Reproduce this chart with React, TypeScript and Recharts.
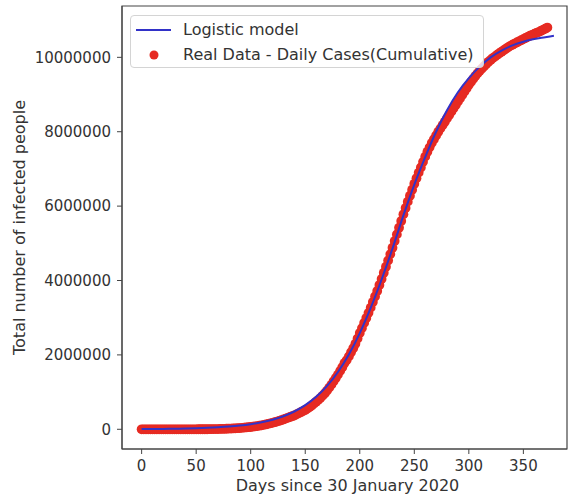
import {
  ComposedChart,
  Line,
  Scatter,
  XAxis,
  YAxis,
  ReferenceArea,
} from "recharts";

// Logistic fit (blue line), read every 10 days off the reference.
const modelDays = [
  0, 10, 20, 30, 40, 50, 60, 70, 80, 90, 100, 110, 120, 130, 140, 150, 160,
  170, 180, 190, 200, 210, 220, 230, 240, 250, 260, 270, 280, 290, 300, 310,
  320, 330, 340, 350, 360, 370, 378,
];
const modelCases = [
  5700, 7800, 10800, 14800, 20400, 28000, 38600, 53000, 72900, 100200, 137500,
  188300, 257600, 351600, 478400, 647600, 872100, 1164900, 1540700, 2011700,
  2586300, 3262800, 4027200, 4860000, 5750000, 6580000, 7320000, 8000000,
  8580000, 9060000, 9440000, 9750000, 10000000, 10180000, 10320000, 10420000,
  10490000, 10540000, 10580000,
];

// Real data (red dots), one reading every 2 days from day 0 to day 372.
const realStartDay = 0;
const realStepDays = 2;
const realCases = [
  // day 0 - 98
  0, 0, 0, 0, 0, 0, 0, 0, 0, 0, 0, 0, 0, 0, 0, 0, 0, 30, 30, 40, 50, 70, 90,
  120, 170, 250, 400, 560, 900, 1100, 1400, 2000, 3000, 4300, 5400, 6700,
  8400, 10000, 12000, 14500, 17000, 20000, 23000, 26500, 29500, 33000, 39000,
  44500, 50000, 56000,
  // day 100 - 138
  62000, 70000, 78000, 86000, 96000, 106000, 118000, 131000, 145000, 159000,
  175000, 190000, 207000, 225000, 245000, 265000, 287000, 308000, 330000,
  350000,
  // day 140 - 198
  370000, 400000, 430000, 460000, 490000, 520000, 555000, 595000, 640000,
  690000, 740000, 790000, 845000, 905000, 970000, 1040000, 1120000, 1200000,
  1290000, 1380000, 1470000, 1570000, 1670000, 1780000, 1860000, 1960000,
  2070000, 2180000, 2300000, 2440000,
  // day 200 - 258
  2590000, 2720000, 2860000, 2990000, 3130000, 3270000, 3420000, 3570000,
  3720000, 3880000, 4040000, 4210000, 4370000, 4540000, 4710000, 4880000,
  5060000, 5240000, 5420000, 5600000, 5780000, 5950000, 6120000, 6280000,
  6440000, 6600000, 6750000, 6900000, 7040000, 7190000,
  // day 260 - 304
  7330000, 7460000, 7580000, 7700000, 7800000, 7900000, 8000000, 8090000,
  8180000, 8270000, 8360000, 8450000, 8540000, 8630000, 8720000, 8810000,
  8900000, 8990000, 9080000, 9170000, 9260000, 9340000, 9420000,
  // day 306 - 372
  9500000, 9570000, 9640000, 9700000, 9760000, 9820000, 9880000, 9930000,
  9980000, 10020000, 10070000, 10110000, 10150000, 10190000, 10230000,
  10270000, 10310000, 10340000, 10370000, 10400000, 10430000, 10460000,
  10490000, 10520000, 10550000, 10580000, 10600000, 10630000, 10660000,
  10680000, 10710000, 10740000, 10770000, 10800000,
];

const xTicks = [0, 50, 100, 150, 200, 250, 300, 350];
const yTicks = [0, 2000000, 4000000, 6000000, 8000000, 10000000];
const xDomain = [-18, 390];
const yDomain = [-530000, 11380000];

const BLUE = "#3232c8";
const RED = "#e62a22";
const AXIS = "#444";
const TEXT = "#333";
const FONT = "'DejaVu Sans', sans-serif";

const modelData = modelDays.map((day, i) => ({ day, cases: modelCases[i] }));
const realData = realCases.map((cases, i) => ({
  day: realStartDay + i * realStepDays,
  cases,
}));

function RedDot(props: any) {
  const { cx, cy } = props;
  if (cx == null || cy == null) return null;
  return <circle cx={cx} cy={cy} r={4.9} fill={RED} />;
}

function Legend() {
  return (
    <div
      style={{
        position: "absolute",
        left: 130,
        top: 15,
        width: 352,
        height: 51,
        border: "1px solid #d4d4d4",
        borderRadius: 4,
        background: "rgba(255,255,255,0.8)",
        fontFamily: FONT,
        fontSize: 16,
        color: TEXT,
      }}
    >
      <svg
        width={40}
        height={51}
        style={{ position: "absolute", left: 0, top: 0 }}
      >
        <line x1={5} x2={40} y1={14} y2={14} stroke={BLUE} strokeWidth={2} />
        <circle cx={23} cy={39} r={4.5} fill={RED} />
      </svg>
      <div
        style={{ position: "absolute", left: 52, top: 4, lineHeight: "19px" }}
      >
        Logistic model
      </div>
      <div
        style={{ position: "absolute", left: 52, top: 29, lineHeight: "19px" }}
      >
        Real Data - Daily Cases(Cumulative)
      </div>
    </div>
  );
}

export default function App() {
  return (
    <div
      style={{
        position: "absolute",
        left: 0,
        top: 0,
        width: 576,
        height: 498,
        background: "#fff",
        fontFamily: FONT,
      }}
    >
      <ComposedChart
        width={576}
        height={498}
        margin={{ top: 6, right: 9, left: 0, bottom: 0 }}
      >
        <XAxis
          type="number"
          dataKey="day"
          domain={xDomain}
          ticks={xTicks}
          allowDataOverflow
          height={49}
          tickSize={5}
          tickMargin={6}
          stroke={AXIS}
          tick={{ fill: TEXT, fontSize: 15, fontFamily: FONT }}
          label={{
            content: (p: any) => {
              const vb = p.viewBox;
              return (
                <text
                  x={vb.x + vb.width / 2 + 3}
                  y={491}
                  textAnchor="middle"
                  fill={TEXT}
                  fontSize={16}
                  fontFamily={FONT}
                >
                  Days since 30 January 2020
                </text>
              );
            },
          }}
        />
        <YAxis
          type="number"
          dataKey="cases"
          domain={yDomain}
          ticks={yTicks}
          allowDataOverflow
          width={122}
          tickSize={5}
          tickMargin={6}
          stroke={AXIS}
          tickFormatter={(v: number) => String(v)}
          tick={{ fill: TEXT, fontSize: 15, fontFamily: FONT }}
          label={{
            content: (p: any) => {
              const vb = p.viewBox;
              const cy = vb.y + vb.height / 2;
              return (
                <text
                  x={19}
                  y={cy}
                  transform={`rotate(-90, 19, ${cy})`}
                  textAnchor="middle"
                  dominantBaseline="central"
                  fill={TEXT}
                  fontSize={16}
                  fontFamily={FONT}
                >
                  Total number of infected people
                </text>
              );
            },
          }}
        />
        <ReferenceArea
          x1={xDomain[0]}
          x2={xDomain[1]}
          y1={yDomain[0]}
          y2={yDomain[1]}
          fill="none"
          stroke={AXIS}
          strokeWidth={1.2}
          ifOverflow="visible"
        />
        <Scatter
          data={realData}
          dataKey="cases"
          fill={RED}
          shape={RedDot}
          isAnimationActive={false}
        />
      </ComposedChart>

      {/* model line sits on top of the dots, like matplotlib's zorder */}
      <div style={{ position: "absolute", left: 0, top: 0 }}>
        <ComposedChart
          width={576}
          height={498}
          margin={{ top: 6, right: 9, left: 122, bottom: 49 }}
        >
          <XAxis
            type="number"
            dataKey="day"
            domain={xDomain}
            allowDataOverflow
            hide
          />
          <YAxis
            type="number"
            dataKey="cases"
            domain={yDomain}
            allowDataOverflow
            hide
          />
          <Line
            data={modelData}
            dataKey="cases"
            type="monotone"
            stroke={BLUE}
            strokeWidth={2}
            dot={false}
            isAnimationActive={false}
          />
        </ComposedChart>
      </div>
      <Legend />
    </div>
  );
}
